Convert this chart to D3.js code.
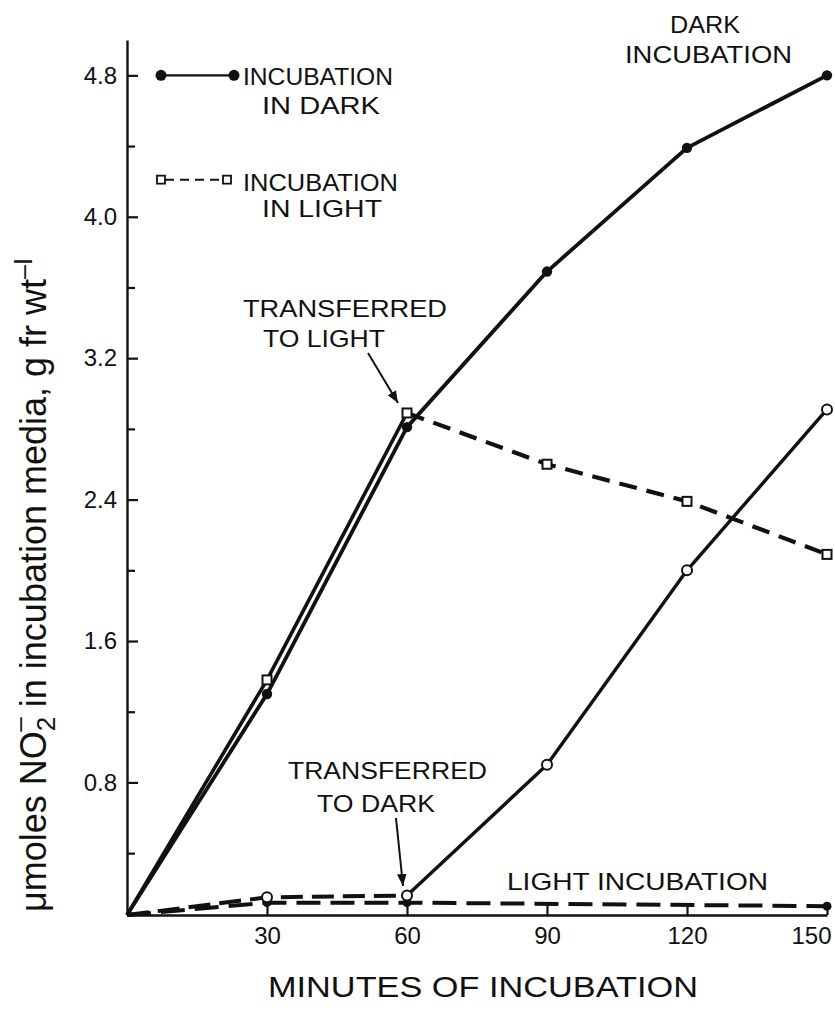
<!DOCTYPE html>
<html>
<head>
<meta charset="utf-8">
<script src="https://cdn.jsdelivr.net/npm/d3@7"></script>
<style>
  html, body { margin: 0; padding: 0; background: #fff; }
  svg { display: block; }
  text { font-family: "Liberation Sans", Arial, sans-serif; fill: #111; }
</style>
</head>
<body>
<svg id="chart" width="835" height="1010"></svg>
<script>
// Nitrite in incubation media over time (minutes)
const minutes = [0, 30, 60, 90, 120, 150];

// Incubated in the dark throughout (filled circles, solid)
const darkValues = [0.05, 1.30, 2.81, 3.69, 4.39, 4.80];

// Dark for 60 min, then transferred to light (open squares)
const toLightValues = [0.05, 1.38, 2.89, 2.60, 2.39, 2.09];

// Light for 60 min, then transferred to dark (open circles)
const toDarkValues = [0.05, 0.15, 0.16, 0.90, 2.00, 2.91];

// Incubated in the light throughout (dashed, small filled markers)
const lightMinutes = [0, 30, 60, 150];
const lightValues = [0.05, 0.12, 0.12, 0.10];

const xTicks = [30, 60, 90, 120, 150];
const yTicks = [0.8, 1.6, 2.4, 3.2, 4.0, 4.8];
const yMinorTicks = [0.4, 1.2, 2.0, 2.8, 3.6, 4.4];

const svg = d3.select("#chart");
const ink = "#111";

const x = d3.scaleLinear().domain([0, 150]).range([127, 827]);
const y = d3.scaleLinear().domain([0.05, 5.0]).range([915, 40]);

const pts = (xs, ys) => xs.map((t, i) => [t, ys[i]]);
const line = d3.line().x(d => x(d[0])).y(d => y(d[1]));

// ---- axes ----
const gx = svg.append("g").attr("transform", `translate(0,${y(0.05)})`)
  .call(d3.axisBottom(x).tickValues(xTicks).tickSizeInner(-10).tickSizeOuter(0)
        .tickPadding(12).tickFormat(d3.format("d")));
const gy = svg.append("g").attr("transform", `translate(${x(0)},0)`)
  .call(d3.axisLeft(y).tickValues(yTicks).tickSizeInner(-11).tickSizeOuter(0)
        .tickPadding(10).tickFormat(d3.format(".1f")));
svg.append("g").attr("transform", `translate(${x(0)},0)`)
  .call(d3.axisLeft(y).tickValues(yMinorTicks).tickSizeInner(-8).tickSizeOuter(0)
        .tickFormat(""))
  .call(g => g.select(".domain").remove());

[gx, gy].forEach(g => {
  g.select(".domain").attr("stroke", ink).attr("stroke-width", 2.4);
  g.selectAll(".tick text").attr("font-size", 24).attr("fill", ink)
    .style("font-family", "'Liberation Sans', Arial, sans-serif");
});
svg.selectAll(".tick line").attr("stroke", ink).attr("stroke-width", 2.2);
// last x label sits just inside the right edge
gx.selectAll(".tick text").filter(d => d === 150)
  .attr("text-anchor", "end").attr("x", 4);

// ---- series lines ----
const dark = pts(minutes, darkValues);
const toLight = pts(minutes, toLightValues);
const toDark = pts(minutes, toDarkValues);
const light = pts(lightMinutes, lightValues);

function path(data, opts) {
  svg.append("path").datum(data).attr("d", line)
    .attr("fill", "none").attr("stroke", ink)
    .attr("stroke-width", opts.w)
    .attr("stroke-dasharray", opts.dash || null)
    .attr("stroke-linejoin", "round");
}

// light-throughout: dashed near baseline
path(light, { w: 4, dash: "24 10" });
// light for 60 min (dashed), then dark (solid)
path(toDark.slice(0, 3), { w: 4, dash: "22 9" });
path(toDark.slice(2), { w: 3.4 });
// dark for 60 min (solid), then light (dashed)
path(toLight.slice(0, 3), { w: 3.6 });
path(toLight.slice(2), { w: 4.2, dash: "18 10" });
// dark throughout
path(dark, { w: 3.8 });

// ---- markers ----
svg.append("g").selectAll("circle").data(light.slice(1)).join("circle")
  .attr("cx", d => x(d[0])).attr("cy", d => y(d[1])).attr("r", 4.5).attr("fill", ink);
svg.append("g").selectAll("circle").data(dark.slice(1)).join("circle")
  .attr("cx", d => x(d[0])).attr("cy", d => y(d[1])).attr("r", 5.2).attr("fill", ink);
svg.append("g").selectAll("circle").data(toDark.slice(1)).join("circle")
  .attr("cx", d => x(d[0])).attr("cy", d => y(d[1])).attr("r", 5)
  .attr("fill", "#fff").attr("stroke", ink).attr("stroke-width", 2);
svg.append("g").selectAll("rect").data(toLight.slice(1)).join("rect")
  .attr("x", d => x(d[0]) - 4.5).attr("y", d => y(d[1]) - 4.5)
  .attr("width", 9).attr("height", 9)
  .attr("fill", "#fff").attr("stroke", ink).attr("stroke-width", 2);

// ---- legend ----
const lg = svg.append("g");
const ly1 = y(4.8), ly2 = y(4.21);
lg.append("line").attr("x1", 161).attr("x2", 234).attr("y1", ly1).attr("y2", ly1)
  .attr("stroke", ink).attr("stroke-width", 2.2);
[161, 234].forEach(cx => lg.append("circle").attr("cx", cx).attr("cy", ly1).attr("r", 5.5).attr("fill", ink));
lg.append("line").attr("x1", 165).attr("x2", 223).attr("y1", ly2).attr("y2", ly2)
  .attr("stroke", ink).attr("stroke-width", 2).attr("stroke-dasharray", "9 6");
[161, 227].forEach(cx => lg.append("rect").attr("x", cx - 4).attr("y", ly2 - 4)
  .attr("width", 8).attr("height", 8).attr("fill", "#fff").attr("stroke", ink).attr("stroke-width", 1.8));

function label(str, x0, cy, len, size = 24, anchor = "start") {
  svg.append("text").attr("x", x0).attr("y", cy).attr("dy", "0.36em")
    .attr("font-size", size).attr("text-anchor", anchor)
    .attr("textLength", len).attr("lengthAdjust", "spacingAndGlyphs")
    .text(str);
}
label("INCUBATION", 243, 76, 150);
label("IN DARK", 262, 105, 118);
label("INCUBATION", 243, 182, 155);
label("IN LIGHT", 262, 208, 120);

// ---- annotations ----
label("DARK", 670, 24, 70);
label("INCUBATION", 625, 54, 167);
label("TRANSFERRED", 243, 308, 204);
label("TO LIGHT", 263, 338, 122);
label("TRANSFERRED", 288, 770, 199);
label("TO DARK", 317, 803, 118);
label("LIGHT INCUBATION", 507, 881, 261);

svg.append("defs").append("marker").attr("id", "head")
  .attr("viewBox", "0 0 10 10").attr("refX", 10).attr("refY", 5)
  .attr("markerWidth", 6).attr("markerHeight", 6).attr("markerUnits", "strokeWidth")
  .attr("orient", "auto")
  .append("path").attr("d", "M0,1 L10,5 L0,9 Z").attr("fill", ink);

function arrow(x1, y1, x2, y2) {
  svg.append("line").attr("x1", x1).attr("y1", y1).attr("x2", x2).attr("y2", y2)
    .attr("stroke", ink).attr("stroke-width", 2).attr("marker-end", "url(#head)");
}
arrow(368, 353, 398, 403);
arrow(396, 818, 403, 886);

// ---- axis titles ----
svg.append("text").attr("x", 483).attr("y", 997).attr("font-size", 29)
  .attr("text-anchor", "middle").attr("textLength", 430).attr("lengthAdjust", "spacingAndGlyphs")
  .text("MINUTES OF INCUBATION");

const yt = svg.append("text").attr("transform", "translate(46,585) rotate(-90)")
  .attr("text-anchor", "middle").attr("font-size", 36);
yt.append("tspan").text("\u03BCmoles NO");
yt.append("tspan").attr("font-size", 26).attr("dy", 9).text("2");
yt.append("tspan").attr("font-size", 26).attr("dx", -15).attr("dy", -27).text("\u2013");
yt.append("tspan").attr("dy", 18).text(" in incubation media, g fr wt");
yt.append("tspan").attr("font-size", 25).attr("dy", -14).text("\u2013I");
</script>
</body>
</html>
